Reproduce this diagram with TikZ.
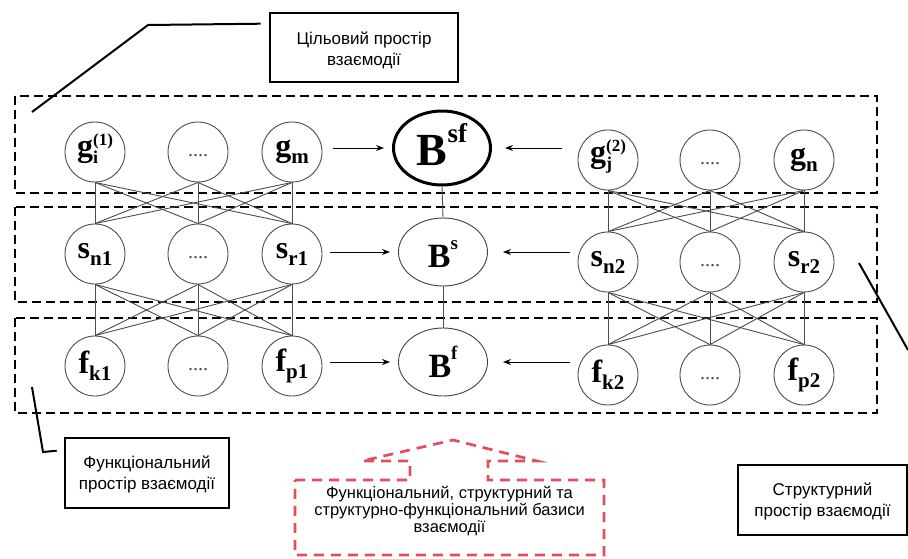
\documentclass[tikz,border=0pt]{standalone}
\usepackage{fontspec}
\setmainfont{Liberation Serif}
\newfontfamily\tagfont{Liberation Sans}
\usetikzlibrary{arrows.meta,shapes.geometric}

\definecolor{calloutred}{RGB}{226,78,90}

% vertex labels: letter with subscript (and optional superscript)
\newcommand\vsub[2]{{\fontsize{32}{32}\selectfont\bfseries #1\raisebox{-7pt}{\fontsize{21}{21}\selectfont #2}}}
\newcommand\vsubsup[3]{{\fontsize{32}{32}\selectfont\bfseries #1\rlap{\raisebox{-7pt}{\fontsize{18}{18}\selectfont #2}}\smash{\raisebox{11pt}{\fontsize{17}{17}\selectfont #3}}}}
% basis labels: letter with superscript
\newcommand\bsup[5]{{\fontsize{#3}{#3}\selectfont\bfseries #1\smash{\raisebox{#5}{\fontsize{#4}{#4}\selectfont #2}}}}
\newcommand\fourdots{\raisebox{-9pt}{\fontsize{20}{20}\selectfont\color{black!70}....}}

\begin{document}
\begin{tikzpicture}[x=1pt,y=-1pt,
  every node/.style={inner sep=0pt},
  vnode/.style={circle, draw=black!70, line width=0.9pt, minimum size=60pt, fill=white},
  basis/.style={ellipse, draw=black!75, line width=0.9pt, minimum width=89pt, minimum height=68pt, fill=white},
  topbasis/.style={ellipse, draw=black, line width=3pt, minimum width=97pt, minimum height=74pt, fill=white},
  zone/.style={draw=black, line width=2pt, dash pattern=on 9pt off 5pt},
  link/.style={draw=black!70, line width=0.9pt},
  feed/.style={-{Stealth[length=8pt,width=6pt]}, line width=1pt},
  tag/.style={draw=black, line width=2.6pt},
  tagtext/.style={align=center, font=\tagfont\fontsize{17}{21}\selectfont},
  pointer/.style={draw=black, line width=2pt},
  redcall/.style={draw=calloutred, line width=2.7pt, dash pattern=on 10pt off 7pt}]

\useasboundingbox (0,0) rectangle (908,558);

% interaction spaces
\draw[zone] (15,96) rectangle (877,193);
\draw[zone] (15,207) rectangle (877,302);
\draw[zone] (15,318) rectangle (877,413);

% first group
\node[vnode] (gi)  at (95,152)  {\vsubsup{g}{i}{(1)}};
\node[vnode] (gd1) at (198,152) {\fourdots};
\node[vnode] (gm)  at (292,152) {\vsub{g}{m}};
\node[vnode] (sn1) at (95,254)  {\vsub{s}{n1}};
\node[vnode] (sd1) at (198,254) {\fourdots};
\node[vnode] (sr1) at (292,254) {\vsub{s}{r1}};
\node[vnode] (fk1) at (95,366)  {\vsub{f}{k1}};
\node[vnode] (fd1) at (198,366) {\fourdots};
\node[vnode] (fp1) at (292,366) {\vsub{f}{p1}};

% second group
\node[vnode] (gj)  at (608,160) {\vsubsup{g}{j}{(2)}};
\node[vnode] (gd2) at (710,160) {\fourdots};
\node[vnode] (gn)  at (804,160) {\vsub{g}{n}};
\node[vnode] (sn2) at (608,262) {\vsub{s}{n2}};
\node[vnode] (sd2) at (710,262) {\fourdots};
\node[vnode] (sr2) at (804,262) {\vsub{s}{r2}};
\node[vnode] (fk2) at (608,375) {\vsub{f}{k2}};
\node[vnode] (fd2) at (710,375) {\fourdots};
\node[vnode] (fp2) at (804,375) {\vsub{f}{p2}};

% complete links between neighbouring levels
\foreach \a in {gi,gd1,gm} \foreach \b in {sn1,sd1,sr1} \draw[link] (\a.south) -- (\b.north);
\foreach \a in {sn1,sd1,sr1} \foreach \b in {fk1,fd1,fp1} \draw[link] (\a.south) -- (\b.north);
\foreach \a in {gj,gd2,gn} \foreach \b in {sn2,sd2,sr2} \draw[link] (\a.south) -- (\b.north);
\foreach \a in {sn2,sd2,sr2} \foreach \b in {fk2,fd2,fp2} \draw[link] (\a.south) -- (\b.north);

% bases
\node[topbasis, label={[yshift=-3pt]center:\bsup{B}{sf}{46}{27}{23pt}}] (Bsf) at (442,148) {};
\node[basis, label={[yshift=-4pt]center:\bsup{B}{s}{34}{19}{18pt}}] (Bs) at (443,252) {};
\node[basis, label={[yshift=-4pt]center:\bsup{B}{f}{34}{19}{18pt}}] (Bf) at (443,362) {};
\draw[link] (Bsf.south) -- (Bs.north);
\draw[link] (Bs.south) -- (Bf.north);

% feeds into the bases
\draw[feed, shorten <=11pt, shorten >=8pt] (gm.east |- Bsf.west) -- (Bsf.west);
\draw[feed, shorten <=8pt, shorten >=8pt] (sr1.east |- Bs.west) -- (Bs.west);
\draw[feed, shorten <=8pt, shorten >=8pt] (fp1.east |- Bf.west) -- (Bf.west);
\draw[feed, shorten <=16pt, shorten >=13pt] (gj.west |- Bsf.east) -- (Bsf.east);
\draw[feed, shorten <=8pt, shorten >=15pt] (sn2.west |- Bs.east) -- (Bs.east);
\draw[feed, shorten <=8pt, shorten >=15pt] (fk2.west |- Bf.east) -- (Bf.east);

% space labels
\node[tag, minimum width=188pt, minimum height=69pt,
  label={[tagtext, yshift=-3pt]center:Цільовий простір\\взаємодії}] (goal) at (364,47.5) {};
\node[tag, minimum width=164pt, minimum height=70pt,
  label={[tagtext, yshift=-1pt]center:Функціональний\\простір взаємодії}] (func) at (147,473) {};
\node[tag, minimum width=169pt, minimum height=70pt,
  label={[tagtext, yshift=-1pt]center:Структурний\\простір взаємодії}] (struct) at (822.5,500) {};

\coordinate (goaltip) at (32,112);
\coordinate (functip) at (32,387);
\coordinate (structtip) at (859,263);
\coordinate (structout) at (908,350);
\draw[pointer] ([xshift=-8pt,yshift=-12pt]goal.north west) -- (148,25) -- (goaltip);
\draw[pointer] ([xshift=-7pt,yshift=-14pt]func.north west) -- (43,452) -- (functip);
\draw[pointer] (structtip) -- (structout);

% bases callout
\draw[redcall] (295,480) -- (410,480) -- (410,461) -- (362,461) -- (453,440) -- (537,461)
  -- (488,461) -- (488,480) -- (604,480) -- (604,555) -- (295,555) -- cycle;
\node[align=center, font=\tagfont\fontsize{16.5}{13.5}\selectfont] (bases) at (449.5,511)
  {Функціональний, структурний та\\структурно-функціональний базиси\\взаємодії};
\end{tikzpicture}
\end{document}
